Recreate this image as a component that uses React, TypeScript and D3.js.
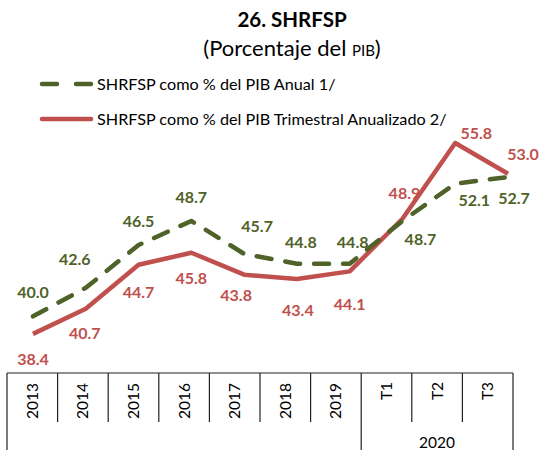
import React from "react";
import * as d3 from "d3";

const categories = ["2013", "2014", "2015", "2016", "2017", "2018", "2019", "T1", "T2", "T3"];
const groupLabel = "2020";
const annualValues = [40.0, 42.6, 46.5, 48.7, 45.7, 44.8, 44.8, 48.7, 52.1, 52.7];
const quarterlyValues = [38.4, 40.7, 44.7, 45.8, 43.8, 43.4, 44.1, 48.9, 55.8, 53.0];
const seriesNames = [
  "SHRFSP como % del PIB Anual 1/",
  "SHRFSP como % del PIB Trimestral Anualizado 2/",
];

// label offsets (px) relative to each point
const annualLabelDx = [0, -11, 0, 0, 13, 4, 3, 18, 19, 6];
const annualLabelDy = [-24, -28, -24, -24, -27, -21, -21, 18, 17, 21];
const quarterlyLabelDx = [0, -1, 0, 0, -8, 1, 0, 2, 21, 15];
const quarterlyLabelDy = [26, 25, 28, 26, 21, 31, 33, -25, -10, -19];

const GREEN = "#4F6228";
const RED = "#C0504D";
const FONT = "Lato, 'Open Sans', sans-serif";

export default function App() {
  const W = 543, H = 450;
  const x = d3.scalePoint<string>().domain(categories).range([33, 508]);
  const y = d3.scaleLinear().domain([30, 60]).range([426, 97]);
  const band = d3.scaleBand<string>().domain(categories).range([7, 513]);

  const line = d3
    .line<number>()
    .x((_, i) => x(categories[i]) as number)
    .y((d) => y(d));

  const axisTop = 373;
  const axisMid = 422;
  const groupStart = categories.indexOf("T1");

  return (
    <svg
      width={W}
      height={H}
      style={{ position: "absolute", left: 0, top: 0, background: "#fff" }}
      fontFamily={FONT}
    >
      {/* Title */}
      <text x={292} y={27} textAnchor="middle" fontSize={20.5} fontWeight="bold" fill="#000">
        26. SHRFSP
      </text>
      <text x={292} y={56} textAnchor="middle" fontSize={22} fill="#000">
        (Porcentaje del <tspan fontSize={15}>PIB</tspan>)
      </text>

      {/* Legend */}
      <line x1={42} x2={57} y1={84} y2={84} stroke={GREEN} strokeWidth={4.5} strokeLinecap="round" />
      <line x1={76} x2={91} y1={84} y2={84} stroke={GREEN} strokeWidth={4.5} strokeLinecap="round" />
      <text x={97} y={90} fontSize={16.2} fill="#000">{seriesNames[0]}</text>
      <line x1={42} x2={91} y1={119} y2={119} stroke={RED} strokeWidth={4.5} strokeLinecap="round" />
      <text x={97} y={124.5} fontSize={16.2} fill="#000">{seriesNames[1]}</text>

      {/* Axis table */}
      <line x1={7} x2={513} y1={axisTop} y2={axisTop} stroke="#222" strokeWidth={1.2} />
      {categories.map((c, i) => {
        const bx = band(c) as number;
        const long = i === 0 || i === groupStart;
        return (
          <line key={"sep" + c} x1={bx} x2={bx} y1={axisTop} y2={long ? H : axisMid} stroke="#222" strokeWidth={1.2} />
        );
      })}
      <line x1={513} x2={513} y1={axisTop} y2={H} stroke="#222" strokeWidth={1.2} />
      {categories.map((c, i) => {
        const cx = (band(c) as number) + band.bandwidth() / 2;
        const cy = i >= groupStart ? 391 : 401;
        return (
          <text
            key={"lab" + c}
            transform={`translate(${cx},${cy}) rotate(-90)`}
            textAnchor="middle"
            dy="0.35em"
            fontSize={15.5}
            fill="#000"
          >
            {c}
          </text>
        );
      })}
      <text
        x={((band(categories[groupStart]) as number) + 513) / 2}
        y={448}
        textAnchor="middle"
        fontSize={15.5}
        fill="#000"
      >
        {groupLabel}
      </text>

      {/* Lines */}
      <path d={line(quarterlyValues) || ""} fill="none" stroke={RED} strokeWidth={4.5} strokeLinejoin="round" />
      <path
        d={line(annualValues) || ""}
        fill="none"
        stroke={GREEN}
        strokeWidth={4.5}
        strokeDasharray="15 14"
        strokeLinecap="round"
        strokeLinejoin="round"
      />

      {/* Labels */}
      {annualValues.map((v, i) => (
        <text
          key={"al" + i}
          x={(x(categories[i]) as number) + annualLabelDx[i]}
          y={y(v) + annualLabelDy[i]}
          dy="0.35em"
          textAnchor="middle"
          fontSize={16}
          fontWeight="bold"
          fill={GREEN}
        >
          {v.toFixed(1)}
        </text>
      ))}
      {quarterlyValues.map((v, i) => (
        <text
          key={"ql" + i}
          x={(x(categories[i]) as number) + quarterlyLabelDx[i]}
          y={y(v) + quarterlyLabelDy[i]}
          dy="0.35em"
          textAnchor="middle"
          fontSize={16}
          fontWeight="bold"
          fill={RED}
        >
          {v.toFixed(1)}
        </text>
      ))}
    </svg>
  );
}
